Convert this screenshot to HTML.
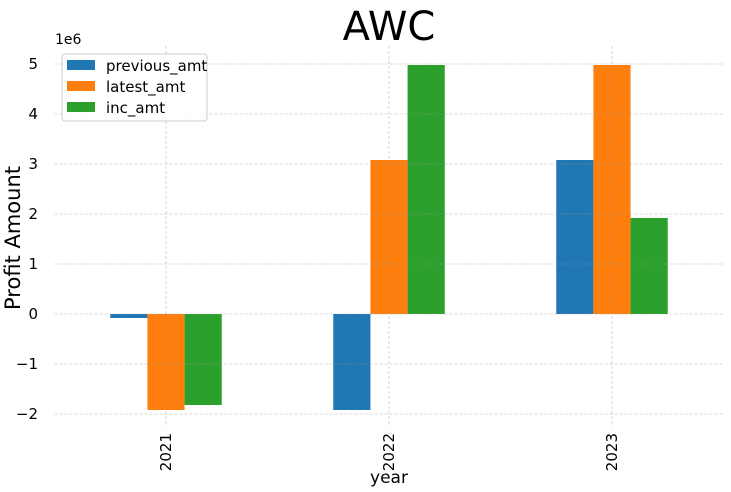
<!DOCTYPE html>
<html><head><meta charset="utf-8"><style>
body{margin:0;background:#fff;}
svg{display:block;font-family:"DejaVu Sans","Liberation Sans",sans-serif;}
</style></head><body>
<svg id="chart" width="731" height="492">
<text x="389" y="40" font-size="40" text-anchor="middle">AWC</text>
<text x="55" y="44" font-size="14">1e6</text>
<text x="20" y="238" font-size="21" text-anchor="middle" transform="rotate(-90 20 238)">Profit Amount</text>
<text x="389" y="483" font-size="17" text-anchor="middle">year</text>
</svg>
<script>
const categories = ["2021","2022","2023"];
const seriesNames = ["previous_amt","latest_amt","inc_amt"];
const previousAmt = [-0.08, -1.92, 3.08];
const latestAmt = [-1.92, 3.08, 4.98];
const incAmt = [-1.82, 4.98, 1.92];
const yTicks = [-2,-1,0,1,2,3,4,5];
const yTickLabels = ["\u22122","\u22121","0","1","2","3","4","5"];
(function(){
const colors = ["#1f77b4","#ff7f0e","#2ca02c"];
const series = [previousAmt, latestAmt, incAmt];
const svg = document.getElementById('chart');
const NS = 'http://www.w3.org/2000/svg';
const plotLeft = 54.5, plotRight = 723.5, plotTop = 46, plotBottom = 427;
const xScale = v => plotLeft + (v + 0.5) * (plotRight - plotLeft) / categories.length;
const yScale = v => 314 - v * 50;
function mk(tag, attrs){const e=document.createElementNS(NS,tag);for(const k in attrs)e.setAttribute(k,attrs[k]);svg.appendChild(e);return e;}
const bw = 0.5/3 * (plotRight-plotLeft)/categories.length;
series.forEach((s, si) => {
  s.forEach((v, ci) => {
    const cx = xScale(ci);
    const x = cx - 1.5*bw + si*bw;
    const y0 = yScale(0), y1 = yScale(v);
    const r = mk('rect',{x:x,y:Math.min(y0,y1),width:bw,height:Math.abs(y1-y0),fill:colors[si]});
    
    
  });
});
yTicks.forEach((t, i) => {
  const y = yScale(t);
  const g = mk('line',{x1:plotLeft,x2:plotRight,y1:y,y2:y,stroke:'#999','stroke-width':0.8,'stroke-dasharray':'3,2',opacity:0.5});
  
  
  const tx = mk('text',{x:38,y:y+5,'font-size':15,'text-anchor':'end'});
  tx.textContent = yTickLabels[i];
  
  
});
categories.forEach((c, ci) => {
  const x = xScale(ci);
  const g = mk('line',{x1:x,x2:x,y1:plotTop,y2:plotBottom,stroke:'#999','stroke-width':0.8,'stroke-dasharray':'3,2',opacity:0.5});
  
  
  const tx = mk('text',{x:x+5,y:433,'font-size':15,'text-anchor':'end',transform:'rotate(-90 '+(x+5)+' 433)'});
  tx.textContent = c;
  
  
});
const lg = mk('rect',{x:62,y:54,width:145,height:67,fill:'#fff','fill-opacity':0.8,stroke:'#ccc',rx:3});


seriesNames.forEach((n, i) => {
  const y = 60 + i*21;
  const sw = mk('rect',{x:67,y:y,width:28,height:10,fill:colors[i]});
  
  
  const t = mk('text',{x:106,y:y+11,'font-size':15});
  t.textContent = n;
  
  
});
})();
</script>
</body></html>
